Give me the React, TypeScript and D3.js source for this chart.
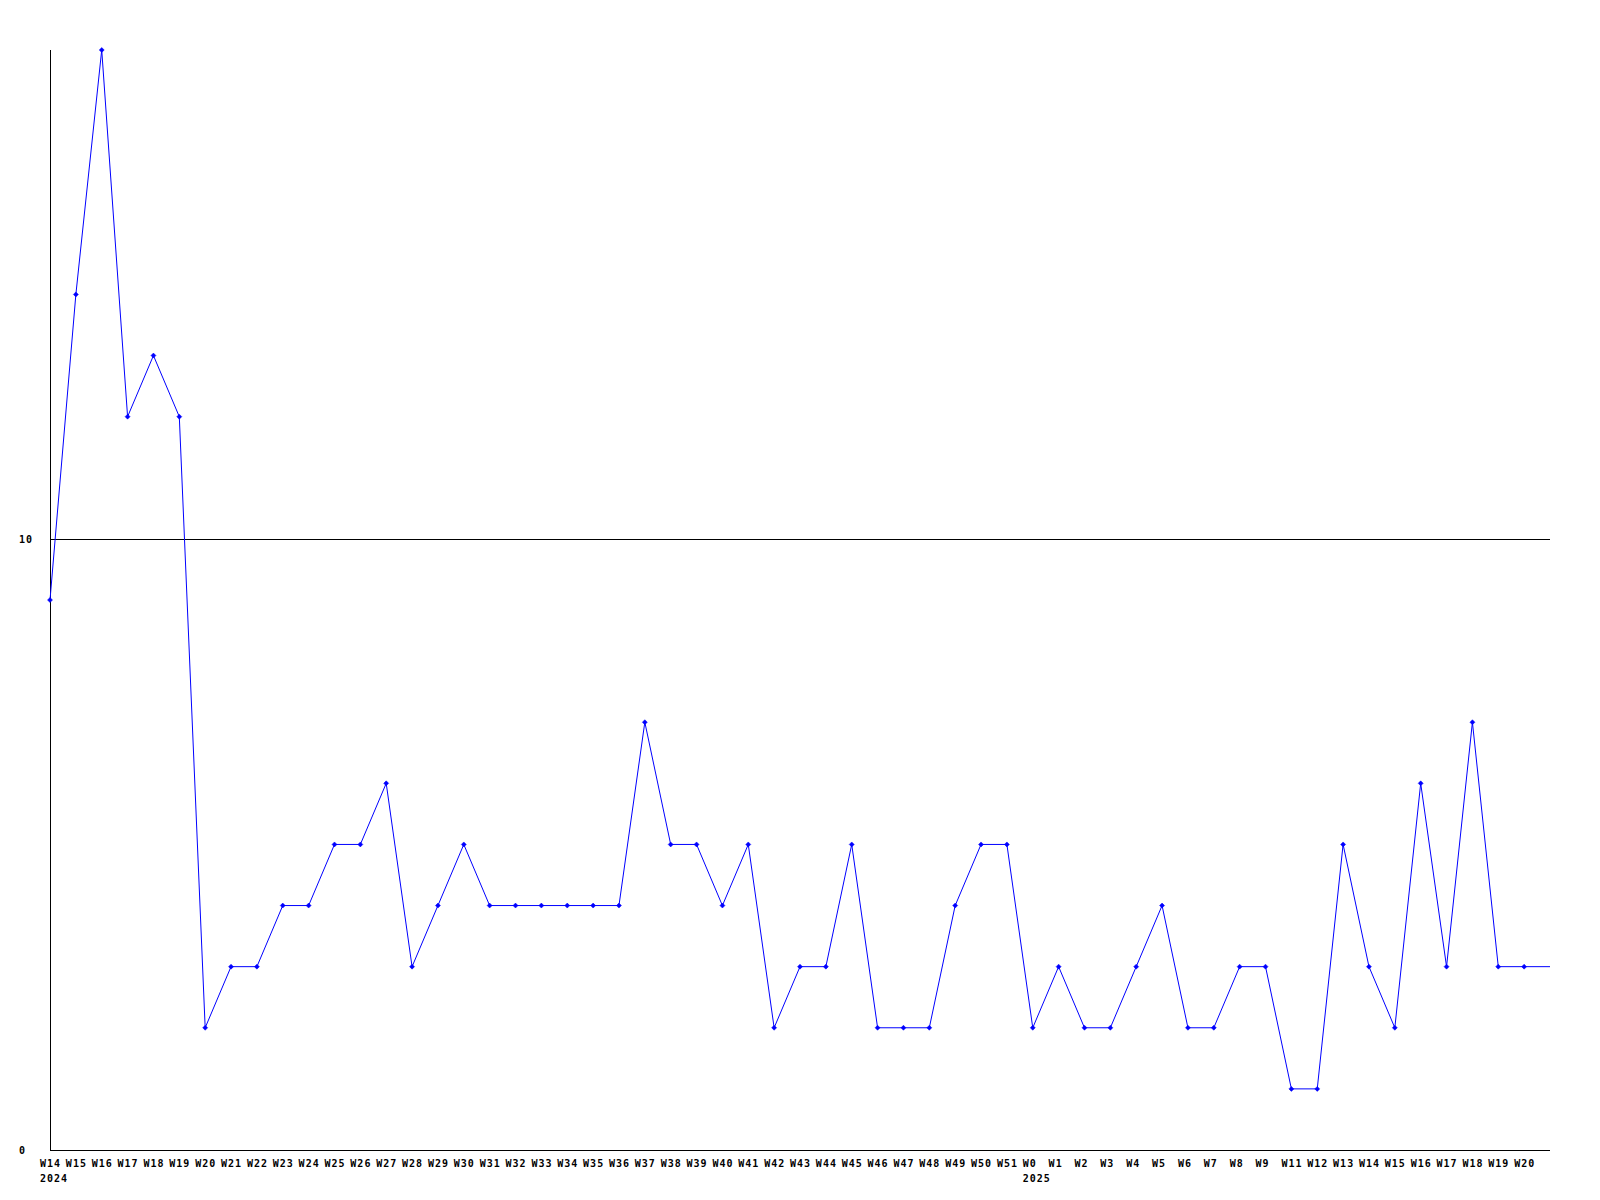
import React from "react";
import * as d3 from "d3";

const weekLabels: string[] = [
  "W14","W15","W16","W17","W18","W19","W20","W21","W22","W23","W24","W25","W26","W27","W28","W29","W30",
  "W31","W32","W33","W34","W35","W36","W37","W38","W39","W40","W41","W42","W43","W44","W45","W46","W47",
  "W48","W49","W50","W51",
  "W0","W1","W2","W3","W4","W5","W6","W7","W8","W9","W11","W12","W13","W14","W15","W16","W17","W18","W19","W20",
  ""
];
const yearLabels: { index: number; year: string }[] = [
  { index: 0, year: "2024" },
  { index: 38, year: "2025" },
];
const values: number[] = [
  9, 14, 18, 12, 13, 12, 2, 3, 3, 4, 4, 5, 5, 6, 3, 4, 5,
  4, 4, 4, 4, 4, 4, 7, 5, 5, 4, 5, 2, 3, 3, 5, 2, 2,
  2, 4, 5, 5,
  2, 3, 2, 2, 3, 4, 2, 2, 3, 3, 1, 1, 5, 3, 2, 6, 3, 7, 3, 3,
  3
];
const yTicks: number[] = [0, 10];

const W = 1600, H = 1200;
const left = 50, right = 1550, top = 50, bottom = 1150;
const font = "'DejaVu Sans Mono', monospace";

export default function App() {
  const x = d3.scaleLinear().domain([0, values.length - 1]).range([left, right]);
  const y = d3.scaleLinear().domain([0, 18]).range([bottom, top]);
  const line = d3.line<number>().x((_, i) => x(i)).y((d) => y(d));
  const markerCount = values.length - 1;
  return (
    <svg width={W} height={H} style={{ position: "absolute", left: 0, top: 0, background: "#fff" }}>
      <rect x={0} y={0} width={W} height={H} fill="#fff" />
      {yTicks.filter((t) => t > 0).map((t) => (
        <line key={t} x1={left} x2={right} y1={Math.round(y(t)) + 0.5} y2={Math.round(y(t)) + 0.5} stroke="#000" strokeWidth={1} shapeRendering="crispEdges" />
      ))}
      <line x1={left + 0.5} x2={left + 0.5} y1={top} y2={bottom + 0.5} stroke="#000" strokeWidth={1} shapeRendering="crispEdges" />
      <line x1={left} x2={right} y1={bottom + 0.5} y2={bottom + 0.5} stroke="#000" strokeWidth={1} shapeRendering="crispEdges" />
      {yTicks.map((t) => (
        <text key={t} x={19} y={Math.round(y(t)) + 4} fontFamily={font} fontWeight="bold" fontSize={10} letterSpacing={1} fill="#000">{t}</text>
      ))}
      <path d={line(values) || ""} fill="none" stroke="#0000ff" strokeWidth={1} />
      {values.slice(0, markerCount).map((v, i) => {
        const cx = x(i), cy = y(v);
        return <path key={i} d={`M${cx},${cy - 2.5}L${cx + 2.5},${cy}L${cx},${cy + 2.5}L${cx - 2.5},${cy}Z`} fill="#0000ff" stroke="#0000ff" strokeWidth={0.5} />;
      })}
      {weekLabels.map((l, i) => (
        <text key={i} x={x(i) - 10} y={1166.5} fontFamily={font} fontWeight="bold" fontSize={10} letterSpacing={1} fill="#000">{l}</text>
      ))}
      {yearLabels.map((yl) => (
        <text key={yl.year} x={x(yl.index) - 10} y={1181.5} fontFamily={font} fontWeight="bold" fontSize={10} letterSpacing={1} fill="#000">{yl.year}</text>
      ))}
    </svg>
  );
}
